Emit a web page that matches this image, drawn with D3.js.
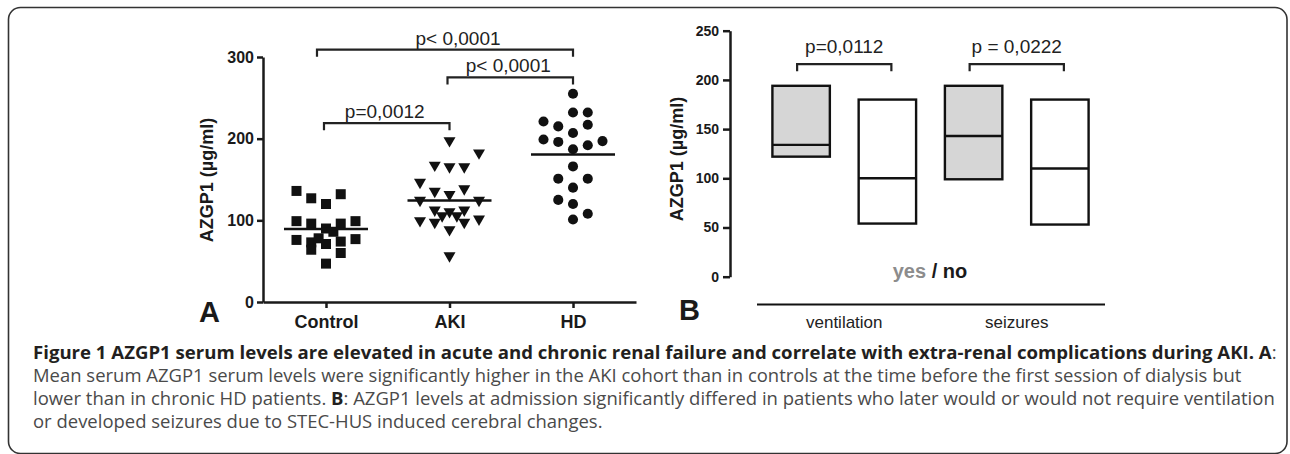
<!DOCTYPE html>
<html>
<head>
<meta charset="utf-8">
<script src="https://cdn.jsdelivr.net/npm/d3@7/dist/d3.min.js"></script>
<style>
	body { margin: 0; background: #fff; }
	svg { display: block; }
	.axis path, .axis line { stroke: #1a1a1a; stroke-width: 2.5px; }
	.axis text { font-family: 'Liberation Sans', Arial, sans-serif; font-weight: bold; fill: #1a1a1a; }
</style>
</head>
<body>
<svg id="fig" width="1290" height="454"></svg>
<script>
// ---- panel A : scatter dot plot ----
var groups = ['Control', 'AKI', 'HD'];
var controlValues = [136, 132, 127, 120, 99, 96, 90, 96, 99, 86, 76, 73, 78, 71, 74, 77, 64, 60, 47];
var controlCols   = [-2, 1, -1, 0, -2, -1, 0, 1, 2, 0.5, -2, -1, -0.5, 0, 1, 2, -1, 1, 0];
var akiValues = [196, 181, 166, 164, 164, 145, 134, 130, 137, 123, 111, 109, 111, 104, 104, 100, 96, 87, 96, 55, 123, 98];
var akiCols   = [0, 2, -1, 0, 1, -2, -1, 0, 1, 2, -1, 0, 1, -0.5, 0.5, 2, -1, 0, 1, 0, -2, -2];
var hdValues = [255, 232, 232, 221, 215, 217, 207, 199, 196, 197, 192, 187, 166, 151, 151, 140, 125, 120, 108, 101];
var hdCols   = [0, 0, 1, -2, -1, 1, 0, -2, -1, 2, 1, 0, 0, -1, 1, 0, -1, 0, 1, 0];
var yTicksA = [0, 100, 200, 300];
// significance brackets (level in µg/ml)
var bracketsA = [
	{ from: 'Control', to: 'AKI', level: 219, label: 'p=0,0012' },
	{ from: 'Control', to: 'HD', level: 309, label: 'p< 0,0001' },
	{ from: 'AKI', to: 'HD', level: 275, label: 'p< 0,0001' }
];

// ---- panel B : floating bars (min / median / max) ----
var complications = ['ventilation', 'seizures'];
var yesMin = [122, 99];
var yesMedian = [134, 143];
var yesMax = [194, 194];
var noMin = [54, 53];
var noMedian = [100, 110];
var noMax = [180, 180];
var pValuesB = ['p=0,0112', 'p = 0,0222'];
var bracketLevelB = 216;
var yTicksB = [0, 50, 100, 150, 200, 250];

// ---- caption ----
var captionLines = [
	[{ t: 'Figure 1 AZGP1 serum levels are elevated in acute and chronic renal failure and correlate with extra-renal complications during AKI. A', b: 1 }, { t: ':' }],
	[{ t: 'Mean serum AZGP1 serum levels were significantly higher in the AKI cohort than in controls at the time before the first session of dialysis but' }],
	[{ t: 'lower than in chronic HD patients. ' }, { t: 'B', b: 1 }, { t: ': AZGP1 levels at admission significantly differed in patients who later would or would not require ventilation' }],
	[{ t: 'or developed seizures due to STEC-HUS induced cerebral changes.' }]
];

var svg = d3.select('#fig');
var ink = '#1a1a1a';
var arial = "'Liberation Sans', Arial, sans-serif";

// frame
svg.append('rect').attr('x', 8.5).attr('y', 7.5).attr('width', 1278.5).attr('height', 446)
	.attr('rx', 12).attr('fill', 'none').attr('stroke', '#333').attr('stroke-width', 1.6);

/* ---------- panel A ---------- */
var xA = d3.scalePoint().domain(groups).range([263, 636]).padding(0.51);
var yA = d3.scaleLinear().domain([0, 300]).range([302, 57]);
var colA = d3.scaleLinear().domain([-2, 2]).range([-29.5, 29.5]);

svg.append('g').attr('class', 'axis').attr('transform', 'translate(263,0)')
	.call(d3.axisLeft(yA).tickValues(yTicksA).tickSize(6).tickSizeOuter(0).tickPadding(3))
	.selectAll('text').style('font-size', '16px');
svg.append('g').attr('class', 'axis').attr('transform', 'translate(0,302)')
	.call(d3.axisBottom(xA).tickSize(6).tickSizeOuter(0).tickPadding(7))
	.selectAll('text').style('font-size', '18px');

svg.append('text').attr('transform', 'translate(213,180) rotate(-90)').attr('text-anchor', 'middle')
	.style('font-family', arial).style('font-weight', 'bold').style('font-size', '18px').attr('fill', ink)
	.text('AZGP1 (µg/ml)');
svg.append('text').attr('x', 199).attr('y', 322).style('font-family', arial).style('font-weight', 'bold')
	.style('font-size', '29px').attr('fill', ink).text('A');

var seriesA = [
	{ g: 'Control', values: controlValues, cols: controlCols, shape: 'square' },
	{ g: 'AKI', values: akiValues, cols: akiCols, shape: 'triangle' },
	{ g: 'HD', values: hdValues, cols: hdCols, shape: 'circle' }
];
var markers = {
	square: 'M-5,-5H5V5H-5Z',
	triangle: 'M-6,-4.8H6L0,5.6Z',
	circle: d3.symbol().type(d3.symbolCircle).size(80)()
};
seriesA.forEach(function (s) {
	var pts = s.values.map(function (v, i) { return { v: v, c: s.cols[i] }; });
	svg.append('g').selectAll('path').data(pts).enter().append('path')
		.attr('d', markers[s.shape]).attr('fill', '#111')
		.attr('transform', function (d) { return 'translate(' + (xA(s.g) + colA(d.c)) + ',' + yA(d.v) + ')'; });
	// mean line
	var m = d3.mean(s.values);
	svg.append('line').attr('x1', xA(s.g) - 42).attr('x2', xA(s.g) + 42)
		.attr('y1', yA(m)).attr('y2', yA(m)).attr('stroke', '#111').attr('stroke-width', 2.5);
});

bracketsA.forEach(function (b, i) {
	var x1 = xA(b.from) - (b.to === 'HD' && b.from === 'Control' ? 9 : 2);
	var x2 = xA(b.to);
	var y = yA(b.level);
	svg.append('path').attr('d', 'M' + x1 + ',' + (y + 7) + 'V' + y + 'H' + x2 + 'V' + (y + 7))
		.attr('fill', 'none').attr('stroke', '#222').attr('stroke-width', 2.2);
	svg.append('text').attr('x', (x1 + x2) / 2 + (i === 1 ? 13 : -2)).attr('y', y - 5).attr('text-anchor', 'middle')
		.style('font-family', arial).style('font-size', '19px').attr('fill', '#222').text(b.label);
});

/* ---------- panel B ---------- */
var barKeys = [];
complications.forEach(function (c) { barKeys.push(c + '|yes'); barKeys.push(c + '|no'); });
var xB = d3.scaleBand().domain(barKeys).range([758, 1103]).paddingInner(0.334).paddingOuter(0.167);
var yB = d3.scaleLinear().domain([0, 250]).range([276.7, 30.7]);

svg.append('g').attr('class', 'axis').attr('transform', 'translate(730,0)')
	.call(d3.axisLeft(yB).tickValues(yTicksB).tickSize(7).tickSizeOuter(0).tickPadding(4))
	.selectAll('text').style('font-size', '14px');

svg.append('text').attr('transform', 'translate(683,159) rotate(-90)').attr('text-anchor', 'middle')
	.style('font-family', arial).style('font-weight', 'bold').style('font-size', '18px').attr('fill', ink)
	.text('AZGP1 (µg/ml)');
svg.append('text').attr('x', 679).attr('y', 320).style('font-family', arial).style('font-weight', 'bold')
	.style('font-size', '29px').attr('fill', ink).text('B');

var boxes = [];
complications.forEach(function (c, i) {
	boxes.push({ key: c + '|yes', lo: yesMin[i], mid: yesMedian[i], hi: yesMax[i], fill: '#d6d6d6' });
	boxes.push({ key: c + '|no', lo: noMin[i], mid: noMedian[i], hi: noMax[i], fill: '#fff' });
});
var bg = svg.append('g').selectAll('g').data(boxes).enter().append('g');
bg.append('rect').attr('x', function (d) { return xB(d.key); }).attr('width', xB.bandwidth())
	.attr('y', function (d) { return yB(d.hi); }).attr('height', function (d) { return yB(d.lo) - yB(d.hi); })
	.attr('fill', function (d) { return d.fill; }).attr('stroke', '#111').attr('stroke-width', 2.4);
bg.append('line').attr('x1', function (d) { return xB(d.key); }).attr('x2', function (d) { return xB(d.key) + xB.bandwidth(); })
	.attr('y1', function (d) { return yB(d.mid); }).attr('y2', function (d) { return yB(d.mid); })
	.attr('stroke', '#111').attr('stroke-width', 2.4);

complications.forEach(function (c, i) {
	var x1 = xB(c + '|yes') + xB.bandwidth() / 2 - 4;
	var x2 = xB(c + '|no') + xB.bandwidth() / 2 + 4;
	var y = yB(bracketLevelB);
	svg.append('path').attr('d', 'M' + x1 + ',' + (y + 7) + 'V' + y + 'H' + x2 + 'V' + (y + 7))
		.attr('fill', 'none').attr('stroke', '#222').attr('stroke-width', 2.2);
	svg.append('text').attr('x', (x1 + x2) / 2).attr('y', y - 11).attr('text-anchor', 'middle')
		.style('font-family', arial).style('font-size', '19px').attr('fill', '#222').text(pValuesB[i]);
	// group label under the baseline
	svg.append('text').attr('x', (xB(c + '|yes') + xB(c + '|no') + xB.bandwidth()) / 2).attr('y', 328)
		.attr('text-anchor', 'middle').style('font-family', arial).style('font-size', '17px').attr('fill', '#222').text(c);
});
svg.append('line').attr('x1', 757).attr('x2', 1105).attr('y1', 304.5).attr('y2', 304.5)
	.attr('stroke', '#111').attr('stroke-width', 2.2);

var yn = svg.append('text').attr('x', 930).attr('y', 278).attr('text-anchor', 'middle')
	.style('font-family', arial).style('font-weight', 'bold').style('font-size', '20px');
yn.append('tspan').attr('fill', '#8c8c8c').text('yes');
yn.append('tspan').attr('fill', ink).text(' / no');

/* ---------- caption ---------- */
var capFont = "'Open Sans', 'Noto Sans', sans-serif";
var capLeft = 33, capTop = 359, capStep = 23;
// right edge each line reaches in the reference (last line follows the others)
var capRight = [1278, 1242, 1275, null];
var kSum = 0, kN = 0;
captionLines.forEach(function (line, i) {
	var t = svg.append('text').attr('y', capTop + i * capStep).style('font-family', capFont).style('font-size', '17.5px');
	line.forEach(function (seg) {
		t.append('tspan').text(seg.t).attr('font-weight', seg.b ? 700 : 400).attr('fill', seg.b ? '#231f20' : '#4a4a4a');
	});
	var w = t.node().getComputedTextLength();
	var k;
	if (capRight[i]) {
		k = (capRight[i] - capLeft) / w;
		if (i > 0) { kSum += k; kN++; }
	} else {
		k = kSum / kN;
	}
	t.attr('transform', 'translate(' + capLeft + ',0) scale(' + k + ',1)');
});
</script>
</body>
</html>
